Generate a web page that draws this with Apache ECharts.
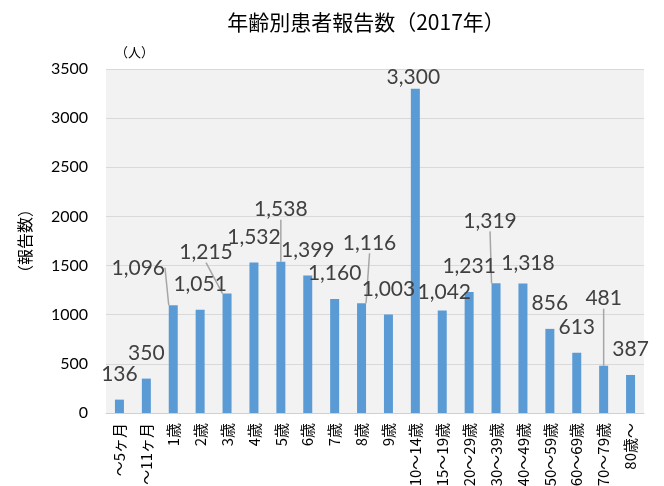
<!DOCTYPE html>
<html>
<head>
<meta charset="utf-8">
<script src="https://cdn.jsdelivr.net/npm/echarts@6/dist/echarts.min.js"></script>
<style>
html,body{margin:0;padding:0;background:#fff;}
#chart{width:664px;height:486px;}
</style>
</head>
<body>
<div id="chart"></div>
<script>
// 年齢区分
var categories = ['～5ヶ月','～11ヶ月','1歳','2歳','3歳','4歳','5歳','6歳','7歳','8歳','9歳',
	'10～14歳','15～19歳','20～29歳','30～39歳','40～49歳','50～59歳','60～69歳','70～79歳','80歳～'];
// 報告数（人）
var values = [136,350,1096,1051,1215,1532,1538,1399,1160,1116,1003,3300,1042,1231,1319,1318,856,613,481,387];

var jpFont = "'Noto Sans CJK JP', sans-serif";
var numFont = "Lato, 'Noto Sans', sans-serif";

// ずらして表示するラベル（引き出し線つきのものは line:true）
var labelShift = {
	2:{dx:-35,dy:-12,line:true},
	4:{dx:-21,dy:-16,line:true},
	6:{dx:0,dy:-27,line:true},
	9:{dx:8,dy:-35,line:true},
	11:{dx:-2,dy:14},
	12:{dx:2,dy:7},
	14:{dx:-6,dy:-37,line:true},
	15:{dx:5,dy:5},
	18:{dx:0,dy:-42,line:true}
};

var barData = [];
for(var i=0;i<values.length;i++){
	var item = {value:values[i]};
	if(labelShift[i] && labelShift[i].line){
		item.labelLine = {show:true};
	}
	barData.push(item);
}

var myChart = echarts.init(document.getElementById('chart'));
myChart.setOption({
	animation:false,
	backgroundColor:'#fff',
	title:{
		text:'年齢別患者報告数（2017年）',
		left:361,
		textAlign:'center',
		top:7,
		textStyle:{fontFamily:jpFont,fontSize:21,fontWeight:'normal',color:'#000'}
	},
	grid:{
		left:106,right:20,top:69,bottom:73,
		show:true,backgroundColor:'#f2f2f2',borderWidth:0,
		outerBoundsMode:'none'
	},
	xAxis:{
		type:'category',
		data:categories,
		name:'（年齢）',
		nameLocation:'middle',
		nameGap:65,
		nameTextStyle:{fontFamily:jpFont,fontSize:14,color:'#000',padding:[0,34,0,0]},
		axisLine:{lineStyle:{color:'#d0d0d0',width:1}},
		axisTick:{show:false},
		axisLabel:{interval:0,rotate:90,margin:10,fontFamily:jpFont,fontSize:15,color:'#000'}
	},
	yAxis:{
		type:'value',
		min:0,max:3500,interval:500,
		name:'（報告数）',
		nameLocation:'middle',
		nameRotate:90,
		nameGap:73,
		nameTextStyle:{fontFamily:jpFont,fontSize:16,color:'#000'},
		axisLine:{show:false},
		axisTick:{show:false},
		axisLabel:{margin:18,fontFamily:numFont,fontSize:16,color:'#000',
			formatter:function(v){return String(v);}},
		splitLine:{lineStyle:{color:'#d9d9d9',width:1}}
	},
	graphic:[{
		type:'text',
		left:115,top:46,
		style:{text:'（人）',font:"13px 'Noto Sans CJK JP'",fill:'#000'}
	}],
	series:[{
		type:'bar',
		data:barData,
		barWidth:9,
		itemStyle:{color:'#5b9bd5'},
		label:{
			show:true,
			position:'top',
			distance:15,
			fontFamily:numFont,
			fontSize:21,
			color:'#404040',
			formatter:function(p){
				return String(p.value).replace(/\B(?=(\d{3})+(?!\d))/g, ',');
			}
		},
		labelLine:{show:false,lineStyle:{color:'#a6a6a6',width:1.5}},
		labelLayout:function(params){
			var s = labelShift[params.dataIndex];
			if(!s){return {};}
			return {dx:s.dx,dy:s.dy};
		}
	}]
});
</script>
</body>
</html>
